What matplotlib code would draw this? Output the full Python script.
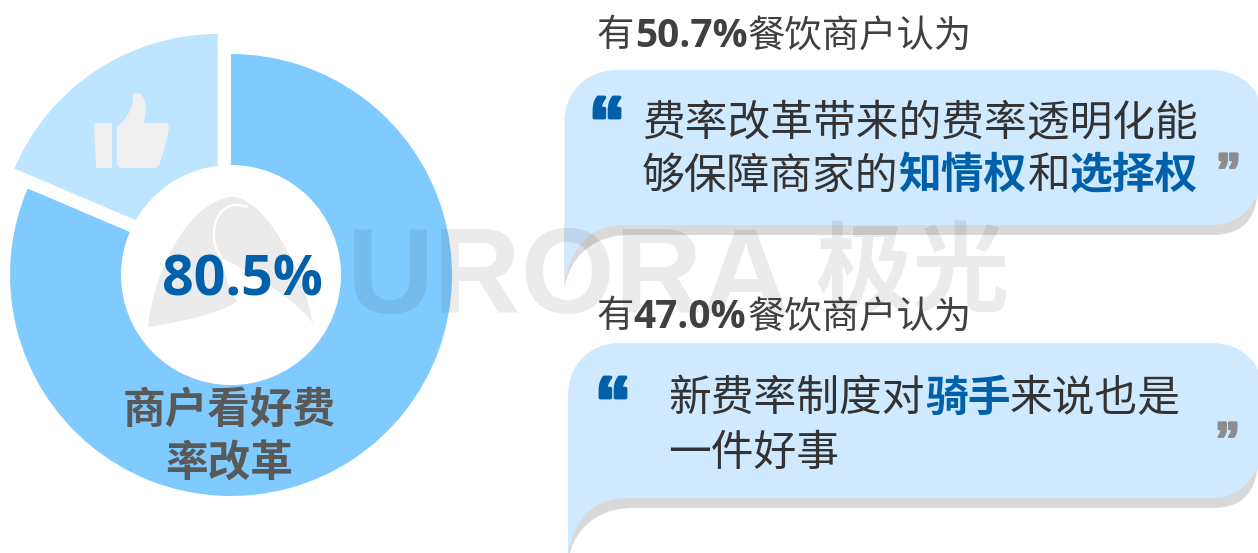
import matplotlib
matplotlib.use("Agg")
import matplotlib.pyplot as plt
import matplotlib.patheffects as pe
from matplotlib.patches import PathPatch, Circle
from matplotlib.path import Path

plt.rcParams['font.family'] = ['Noto Sans CJK SC', 'DejaVu Sans']

share_values = [81.4, 18.6]
share_colors = ['#7FCBFF', '#BDE5FF']
center_value = '80.5%'
center_caption = ['商户看好费', '率改革']
head_pcts = ['50.7%', '47.0%']

W, H = 1258, 553
CX, CY, R = 231, 275, 221
fig = plt.figure(figsize=(W / 100, H / 100), dpi=100, facecolor='white')

# donut
ax = fig.add_axes([0, 0, 1, 1], zorder=1)
ax.pie(share_values, startangle=90, counterclock=False, colors=share_colors,
       explode=[0, 24 / R], radius=1, wedgeprops={'linewidth': 0})
ax.add_patch(Circle((0, 0), 110 / R, fc='white', ec='none', zorder=5))
ax.set_xlim(-CX / R, (W - CX) / R)
ax.set_ylim(-(H - CY) / R, CY / R)
ax.axis('off')

# pixel overlay
ov = fig.add_axes([0, 0, 1, 1], zorder=2)
ov.set_xlim(0, W)
ov.set_ylim(H, 0)
ov.axis('off')
ov.patch.set_alpha(0)

M, L, C3, C4, Z = Path.MOVETO, Path.LINETO, Path.CURVE3, Path.CURVE4, Path.CLOSEPOLY


def shape(segs, lw=0, **kw):
    v, c = [], []
    for code, pts in segs:
        for p in pts:
            v.append(p)
            c.append(code)
    p = PathPatch(Path(v, c), lw=lw, **kw)
    ov.add_patch(p)
    return p


def bubble(left, top, bottom, tip_y, shadow_tip_y, color, shadow, off=10):
    right = 1258
    r1 = 52
    # shadow
    shape([(M, [(left, tip_y - 60)]), (L, [(right, bottom - 40)]),
           (C4, [(right, bottom - 12 + off), (right - 20, bottom + off), (right - 45, bottom + off)]),
           (L, [(left + 65, bottom + off)]),
           (C4, [(left + 28, bottom + off), (left + 6, shadow_tip_y - 30), (left, shadow_tip_y)]),
           (L, [(left, tip_y - 60)])], fc=shadow, ec='none', zorder=2)
    shape([(M, [(left, tip_y)]), (L, [(left, top + r1)]),
           (C4, [(left, top + 20), (left + 24, top), (left + r1, top)]),
           (L, [(right - 45, top)]),
           (C4, [(right - 25, top), (right - 6, top + 12), (right, top + 27)]),
           (L, [(right, bottom - 32)]),
           (C4, [(right - 8, bottom - 12), (right - 25, bottom), (right - 45, bottom)]),
           (L, [(left + 60, bottom)]),
           (C4, [(left + 22, bottom), (left + 4, tip_y - 32), (left, tip_y)])],
          fc=color, ec='none', zorder=3)


bubble(564.5, 70, 225, 285, 287, '#CFE9FF', '#D9D9D9')
bubble(568, 343, 498, 556, 560, '#CFE9FF', '#D9D9D9')

# thumb icon
shape([(M, [(94, 124)]), (C3, [(94, 123), (96, 123)]), (L, [(111, 123)]),
       (C3, [(112, 123), (112, 125)]), (L, [(112, 166)]), (C3, [(112, 168), (110, 168)]),
       (L, [(98, 168)]), (C3, [(96, 168), (96, 166)]), (L, [(94, 124)])],
      fc='#F0F0F0', ec='none', zorder=4)
shape([(M, [(117, 127)]),
       (C4, [(125, 120), (133, 110), (133, 97)]),
       (C4, [(133, 94), (135, 93), (137, 93)]),
       (C4, [(143, 93), (146, 102), (146, 109)]),
       (L, [(144, 123)]), (L, [(165, 123)]),
       (C3, [(169, 123), (169, 128)]),
       (C4, [(166, 142), (163, 156), (159, 165)]),
       (C3, [(158, 168), (154, 168)]),
       (L, [(122, 168)]), (C3, [(117, 168), (117, 162)]), (L, [(117, 127)])],
      fc='#F0F0F0', ec='none', zorder=4)

# watermark
WM = dict(color='black', alpha=0.08, zorder=6)
shape([(M, [(148, 327)]),
       (C4, [(150, 290), (180, 205), (230, 197)]),
       (C4, [(265, 195), (303, 270), (313, 323)]),
       (C4, [(290, 295), (255, 275), (222, 258)]),
       (C3, [(226, 285), (237, 302)]),
       (C4, [(215, 315), (180, 322), (148, 327)])],
      fc='black', ec='none', alpha=0.08, zorder=6)
shape([(M, [(248, 207)]),
       (C4, [(228, 200), (215, 212), (214, 232)]),
       (C3, [(213, 248), (222, 258)])],
      lw=1.6, fc='none', ec='white', zorder=6)
ov.text(347, 313, 'URORA', family='Liberation Sans', weight='bold', fontsize=87,
        ha='left', va='baseline', **WM)
ov.text(815, 304, '极光', family='Noto Sans CJK SC', weight='bold', fontsize=70,
        ha='left', va='baseline', **WM)

# quotes
BLUE = '#0060AA'
GRAY = '#8C8C8C'
qkw = dict(family='Liberation Sans', weight='bold', ha='left', va='baseline', zorder=8)
for x, y, q, col, fs, sw in [(589, 147, '“', BLUE, 52, 2.5), (595, 427, '“', BLUE, 52, 2.5),
                             (1216, 188, '”', GRAY, 36, 1.8), (1215, 457, '”', GRAY, 36, 1.8)]:
    ov.text(x, y, q, color=col, fontsize=fs,
            path_effects=[pe.withStroke(linewidth=sw, foreground=col)], **qkw)

# centre text
ov.text(242, 281, center_value, family='Open Sans', weight='bold', fontsize=40, color=BLUE,
        ha='center', va='center', zorder=8)
for txt, y in zip(center_caption, [410, 463]):
    ov.text(229, y, txt, weight='bold', fontsize=30.7, color='#595959', ha='center',
            va='center', zorder=8)

DARK = '#333333'
HEAD = '#404040'


def run(x, yc, s, size, color=DARK, weight='normal', family='Noto Sans CJK SC'):
    ov.text(x, yc + 0.38 * size * 100 / 72, s, family=family, fontsize=size, color=color,
            weight=weight, ha='left', va='baseline', zorder=8)


HS = 26.9
for pct, yc, xp in zip(head_pcts, [32, 313], [635, 633]):
    run(596, yc, '有', HS, HEAD)
    run(xp, yc, pct, 28, HEAD, 'bold', 'Open Sans')
    run(748, yc, '餐饮商户认为', HS, HEAD)

BS = 30.8
run(642, 120, '费率改革带来的费率透明化能', BS)
run(642, 172, '够保障商家的', BS)
run(898, 172, '知情权', BS, BLUE, 'bold')
run(1028, 172, '和', BS)
run(1070, 172, '选择权', BS, BLUE, 'bold')
run(668, 395, '新费率制度对', BS)
run(925, 395, '骑手', BS, BLUE, 'bold')
run(1010, 395, '来说也是', BS)
run(668, 450, '一件好事', BS)

fig.savefig('out.png', dpi=100, facecolor='white')
